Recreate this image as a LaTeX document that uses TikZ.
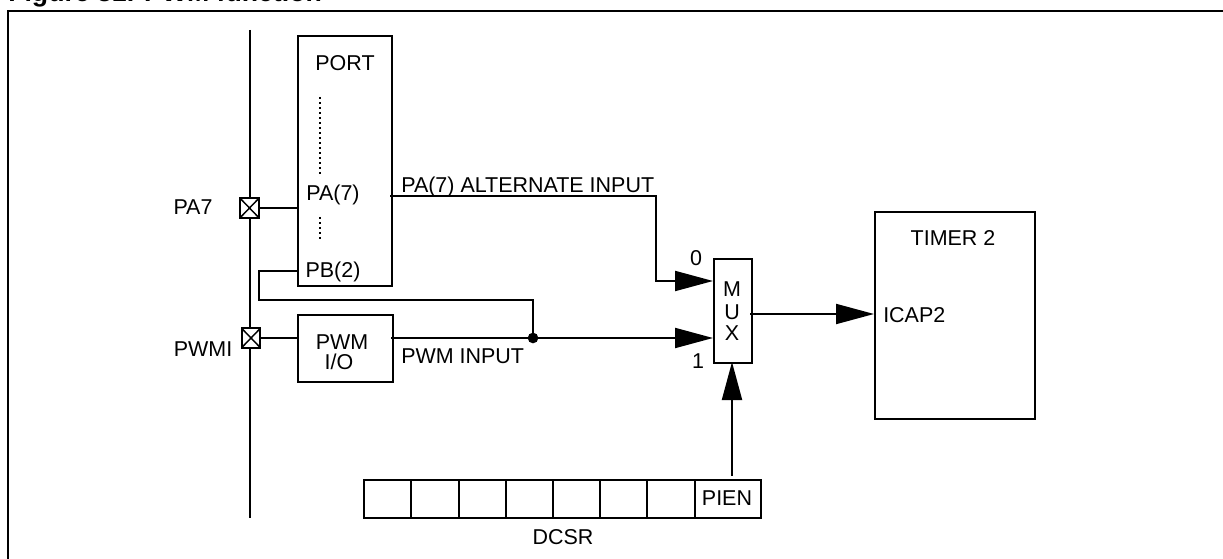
\documentclass[tikz,border=0pt]{standalone}
\usepackage{fontspec}
\setmainfont{Liberation Sans}
\usetikzlibrary{arrows.meta}
\tikzset{
  x=0.75pt,y=-0.75pt,
  wire/.style={line width=1.5pt,line cap=rect},
  feed/.style={wire,-{Triangle[length=28.5pt,width=15pt]}},
  blockbox/.style={draw,line width=1.5pt,inner sep=0pt,anchor=north west},
  txt/.style={inner sep=0pt,font=\fontsize{16.1pt}{19pt}\selectfont},
  pad/.style={draw,line width=1.6pt,minimum width=14pt,minimum height=14.5pt,inner sep=0pt,fill=white,
    path picture={\draw[line width=1.1pt] (path picture bounding box.north west)--(path picture bounding box.south east)
      (path picture bounding box.north east)--(path picture bounding box.south west);}},
  cell/.style={blockbox,minimum height=28.5pt},
  dots/.style={line width=1.6pt,dash pattern=on 1.5pt off 2.25pt},
}
\begin{document}
\begin{tikzpicture}
\useasboundingbox (0,0) rectangle (1223,559);
\clip (0,0) rectangle (1223,559);
% title, cut by the top edge as in the reference
\node[anchor=base west,inner sep=0pt,font=\bfseries\fontsize{20pt}{24pt}\selectfont] (title) at (8,2) {Figure 31. PWM function};
% frame
\coordinate (fbl) at (8,570);
\coordinate (ftl) at (8,11);
\coordinate (ftr) at (1240,11);
\draw[line width=1.6pt] (fbl) -- (ftl) -- (ftr);
% bus
\coordinate (bust) at (250,30);
\coordinate (busb) at (250,518);
\draw[line width=1.5pt] (bust) -- (busb);
% blocks
\node[blockbox,minimum width=70.5pt,minimum height=187.5pt] (port) at (297,35) {};
\node[blockbox,minimum width=71pt,minimum height=50pt] (pwm) at (297,314) {};
\node[blockbox,minimum width=28.5pt,minimum height=78pt] (mux) at (713,258) {};
\node[blockbox,minimum width=120pt,minimum height=155pt] (timer) at (874,211) {};
% register
\node[cell,minimum width=35.25pt] (r1) at (363,479) {};
\node[cell,minimum width=36pt] (r2) at (410,479) {};
\node[cell,minimum width=35.25pt] (r3) at (458,479) {};
\node[cell,minimum width=35.25pt] (r4) at (505,479) {};
\node[cell,minimum width=35.25pt] (r5) at (552,479) {};
\node[cell,minimum width=35.25pt] (r6) at (599,479) {};
\node[cell,minimum width=36pt] (r7) at (646,479) {};
\node[cell,minimum width=49.5pt] (pien) at (694,479) {};
% pads
\node[pad] (pa7pad) at (249.5,208) {};
\node[pad] (pwmipad) at (251,338) {};
% junction
\node[circle,fill=black,inner sep=0pt,minimum size=8pt] (dot) at (533,338) {};
% dotted lines
\coordinate (d1a) at (320,97);
\coordinate (d1b) at (320,176);
\coordinate (d2a) at (320,217);
\coordinate (d2b) at (320,242);
\draw[dots] (d1a) -- (d1b);
\draw[dots] (d2a) -- (d2b);
% connectors
\draw[wire] (pa7pad.east) -- (pa7pad.east -| port.west);
\draw[wire] (pwmipad.east) -- (pwmipad.east -| pwm.west);
\coordinate (pb2) at (297,271);
\coordinate (pbk1) at (259,271);
\coordinate (pbk2) at (259,300);
\coordinate (pbk3) at (533,300);
\draw[wire] (pb2) -- (pbk1) -- (pbk2) -- (pbk3) -- (dot.center);
\coordinate (paout) at (391,196);
\coordinate (pak1) at (656,196);
\coordinate (pak2) at (656,281);
\coordinate (muxa) at (713,281);
\draw[feed] (paout) -- (pak1) -- (pak2) -- (muxa);
\coordinate (pwmout) at (392,338);
\coordinate (muxb) at (713,338);
\draw[wire] (pwmout) -- (dot.center);
\draw[feed] (dot.center) -- (muxb);
\coordinate (muxo) at (751,314);
\coordinate (timi) at (874,314);
\draw[feed] (muxo) -- (timi);
\coordinate (pient) at (732,475);
\coordinate (muxc) at (732,362);
\draw[feed] (pient) -- (muxc);
% text
\node[txt] (tport) at (345,63) {PORT};
\node[txt] (tpa) at (333,195) {PA(7)};
\node[txt] (tpb) at (333,272) {PB(2)};
\node[txt] (tpa7) at (193,207) {PA7};
\node[txt] (tpwmi) at (203,349) {PWMI};
\node[txt] (tpwm) at (342,342) {PWM};
\node[txt] (tio) at (339,362) {I/O};
\node[txt,anchor=base west] (talt) at (401,193) {PA(7) ALTERNATE INPUT};
\node[txt,anchor=west] (tin) at (401,356) {PWM INPUT};
\node[txt] (t0) at (696,258) {0};
\node[txt] (t1) at (698,361) {1};
\node[txt] (tm) at (732,289) {M};
\node[txt] (tu) at (732,312.5) {U};
\node[txt] (tx) at (732,333.5) {X};
\node[txt] (ttimer) at (953,238) {TIMER 2};
\node[txt,anchor=west] (ticap) at (883,315) {ICAP2};
\node[txt] (tpien) at (727,498) {PIEN};
\node[txt] (tdcsr) at (563,537) {DCSR};
\end{tikzpicture}
\end{document}
